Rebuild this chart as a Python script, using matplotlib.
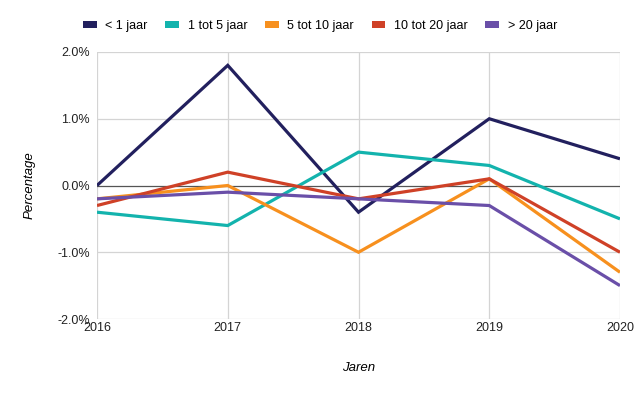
import matplotlib
matplotlib.use("Agg")
import matplotlib.pyplot as plt
from matplotlib.patches import Patch
from matplotlib.ticker import FuncFormatter

plt.rcParams["font.family"] = ["Liberation Sans", "DejaVu Sans"]

# ---- data ----------------------------------------------------------------
jaren = [2016, 2017, 2018, 2019, 2020]
labels = ["< 1 jaar", "1 tot 5 jaar", "5 tot 10 jaar", "10 tot 20 jaar", "> 20 jaar"]
lt_1 = [0.0, 1.8, -0.4, 1.0, 0.4]
tot_5 = [-0.4, -0.6, 0.5, 0.3, -0.5]
tot_10 = [-0.2, 0.0, -1.0, 0.1, -1.3]
tot_20 = [-0.3, 0.2, -0.2, 0.1, -1.0]
gt_20 = [-0.2, -0.1, -0.2, -0.3, -1.5]
colors = ["#22205e", "#13b3ad", "#f7901e", "#cf4127", "#6a4fa8"]

series = [lt_1, tot_5, tot_10, tot_20, gt_20]

fig = plt.figure(figsize=(6.4, 3.96), dpi=100)
ax = fig.add_axes([97 / 640, 1 - 319 / 396, (620 - 97) / 640, (319 - 52) / 396])

# gridlines behind everything
for x in jaren:
    ax.axvline(x, color="#d4d4d4", lw=0.9, zorder=0)
for y in [-2, -1, 1, 2]:
    ax.axhline(y, color="#d4d4d4", lw=0.9, zorder=0)
ax.axhline(0, color="#555555", lw=0.9, zorder=1)

# later series drawn on top, like the reference
for idx, (vals, col, lab) in enumerate(zip(series, colors, labels)):
    ax.plot(jaren, vals, color=col, lw=2.3, label=lab, zorder=2 + idx,
            solid_joinstyle="miter", solid_capstyle="butt")

ax.set_xlim(2016, 2020)
ax.set_ylim(-2, 2)
ax.set_xticks(jaren)
ax.set_yticks([-2, -1, 0, 1, 2])
ax.yaxis.set_major_formatter(FuncFormatter(lambda v, _: f"{v:.1f}%"))
ax.tick_params(length=0, labelsize=9, colors="#222222")
ax.tick_params(axis="y", pad=5)
ax.tick_params(axis="x", pad=2)
for s in ax.spines.values():
    s.set_visible(False)

ax.set_xlabel("Jaren", style="italic", fontsize=9.5, labelpad=20)
ax.set_ylabel("Percentage", style="italic", fontsize=9.5, labelpad=16)

handles = [Patch(facecolor=c, label=l) for c, l in zip(colors, labels)]
fig.legend(handles=handles, loc="center", bbox_to_anchor=(0.5, 1 - 26 / 396),
           ncol=5, frameon=False, fontsize=9, handlelength=1.1, handleheight=0.45,
           handletextpad=0.7, columnspacing=1.4)

fig.savefig("out.png", dpi=100)
